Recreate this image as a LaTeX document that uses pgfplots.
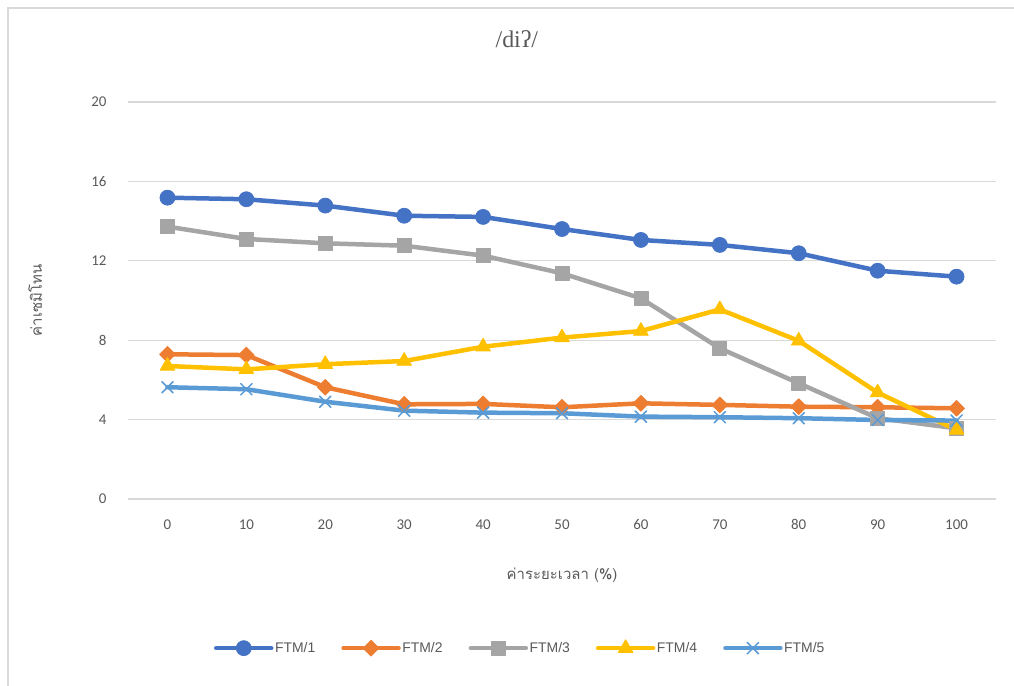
\documentclass[border=0pt]{standalone}
\usepackage{pgfplots}
\pgfplotsset{compat=1.18}
\usepackage{fontspec}
\setmainfont{Carlito}
\newfontfamily\thaifont[Script=Thai]{Loma}
\newfontfamily\titlefont{Liberation Serif}
\newfontfamily\legfont{Liberation Sans}
\definecolor{c1}{HTML}{4472C4}
\definecolor{c2}{HTML}{ED7D31}
\definecolor{c3}{HTML}{A5A5A5}
\definecolor{c4}{HTML}{FFC000}
\definecolor{c5}{HTML}{5B9BD5}
\definecolor{txt}{HTML}{595959}
\definecolor{gridc}{HTML}{D9D9D9}
\begin{document}
\begin{tikzpicture}[x=1bp,y=1bp]
\useasboundingbox (0,0) rectangle (1014,686);
\draw[gridc, line width=1.5bp] (8,0) -- (8,678) -- (1014,678);
\begin{axis}[
  at={(128bp,187bp)}, anchor=south west,
  scale only axis, width=868bp, height=397bp,
  xmin=-5, xmax=105, ymin=0, ymax=20,
  xtick={0,10,...,100}, ytick={0,4,...,20},
  axis line style={draw=none},
  tick style={draw=none},
  ymajorgrids, major grid style={draw=gridc, line width=1.3bp},
  /pgf/number format/assume math mode=true,
  ticklabel style={font=\fontsize{15}{17}\selectfont, text=txt},
  yticklabel style={xshift=-18bp},
  xticklabel style={yshift=-17bp},
  clip=false,
  title={\titlefont\fontsize{24}{26}\selectfont /diʔ/},
  title style={at={(axis description cs:0.448,1.144)}, anchor=center, text=txt},
  xlabel={\thaifont\fontsize{15}{17}\selectfont ค่าระยะเวลา (\%)},
  xlabel style={at={(axis description cs:0.5,-0.191)}, anchor=center, text=txt},
  ylabel={\thaifont\fontsize{15}{17}\selectfont ค่าเซมิโทน},
  ylabel style={at={(axis description cs:-0.107,0.5)}, anchor=center, rotate=0, text=txt},
  legend columns=5,
  legend style={at={(axis description cs:0.4516,-0.375)}, anchor=center, draw=none,
    font=\legfont\fontsize{14}{16}\selectfont, text=txt, inner sep=0pt,
    nodes={inner sep=1.5bp},
    /tikz/every even column/.append style={column sep=24.5bp}},
  legend image code/.code={\draw[mark repeat=2,mark phase=2,#1] plot coordinates {(0bp,0bp)(27.5bp,0bp)(55bp,0bp)};},
  every axis plot/.append style={line width=4.5bp, line join=round, line cap=round},
]
\addplot[c1, mark=*, mark size=7.5bp, mark options={solid, fill=c1, draw=c1, line width=0.75bp}] coordinates {
(0,15.18)(10,15.10)(20,14.78)(30,14.27)(40,14.21)(50,13.60)(60,13.05)(70,12.80)(80,12.38)(90,11.50)(100,11.20)};
\addlegendentry{FTM/1}
\addplot[c2, mark=square*, mark size=5.6bp, mark options={solid, rotate=45, fill=c2, draw=c2, line width=0.75bp}] coordinates {
(0,7.29)(10,7.25)(20,5.63)(30,4.77)(40,4.79)(50,4.62)(60,4.82)(70,4.74)(80,4.65)(90,4.62)(100,4.57)};
\addlegendentry{FTM/2}
\addplot[c3, mark=square*, mark size=7bp, mark options={solid, fill=c3, draw=c3, line width=0.75bp}] coordinates {
(0,13.72)(10,13.10)(20,12.88)(30,12.76)(40,12.26)(50,11.37)(60,10.11)(70,7.59)(80,5.83)(90,4.07)(100,3.56)};
\addlegendentry{FTM/3}
\addplot[c4, mark=triangle*, mark size=8.5bp, mark options={solid, fill=c4, draw=c4, line width=0.75bp}] coordinates {
(0,6.70)(10,6.53)(20,6.79)(30,6.95)(40,7.67)(50,8.13)(60,8.46)(70,9.55)(80,7.97)(90,5.36)(100,3.48)};
\addlegendentry{FTM/4}
\addplot[c5, mark=x, mark size=8bp, mark options={solid, draw=c5, line width=1.5bp}] coordinates {
(0,5.63)(10,5.53)(20,4.90)(30,4.45)(40,4.35)(50,4.32)(60,4.15)(70,4.12)(80,4.07)(90,3.98)(100,3.95)};
\addlegendentry{FTM/5}
\end{axis}
\end{tikzpicture}
\end{document}
